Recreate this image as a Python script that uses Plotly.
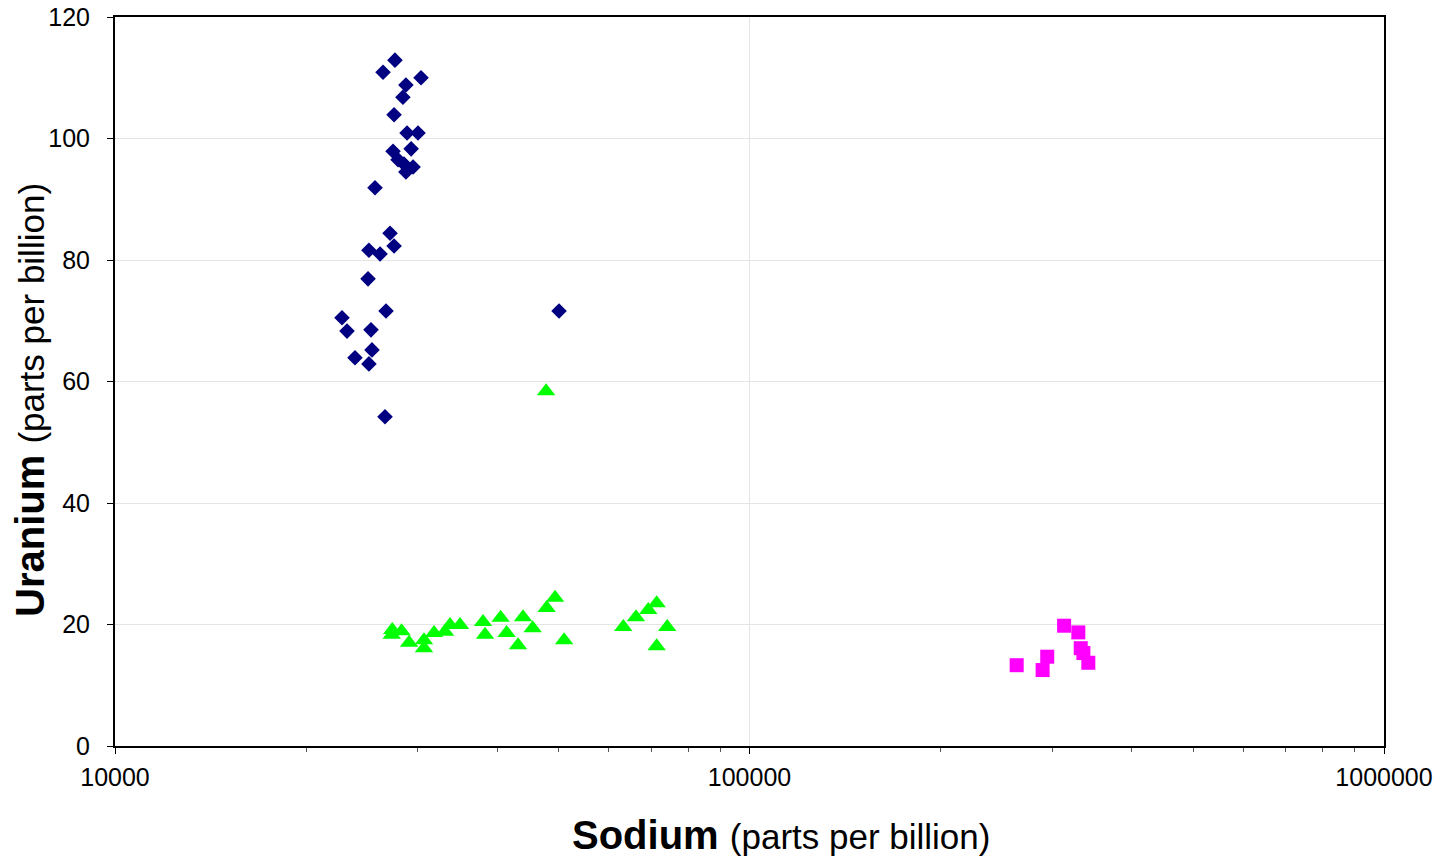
import plotly.graph_objects as go

# Navy diamonds
na_x = [27620, 26450, 30360, 28740, 28430, 27530, 28860, 30030, 27430, 29290,
        27930, 28540, 29500, 28740, 25690, 27130, 25130, 27530, 26170, 25050,
        26740, 22790, 23210, 25320, 23890, 25410, 25130, 26640, 50100]
na_y = [112.9, 110.9, 110.0, 108.8, 106.8, 103.9, 100.9, 100.9, 97.9, 98.3,
        96.5, 95.8, 95.3, 94.5, 91.9, 84.4, 81.6, 82.3, 81.0, 76.9,
        71.6, 70.5, 68.3, 68.5, 63.9, 65.2, 62.9, 54.2, 71.6]

# Green triangles
gr_x = [27350, 27300, 28290, 29070, 30690, 30690, 31830, 33120, 33730, 34980,
        38020, 38300, 40530, 41420, 43170, 43960, 45530, 47900, 49380, 51030,
        63250, 66240, 69250, 71400, 74190, 71400, 47800]
gr_y = [19.1, 18.3, 18.9, 17.0, 17.4, 16.1, 18.6, 18.8, 19.9, 19.9,
        20.4, 18.3, 21.1, 18.6, 16.6, 21.2, 19.4, 22.7, 24.4, 17.4,
        19.6, 21.2, 22.4, 23.5, 19.6, 16.4, 58.4]

# Magenta squares
mg_x = [313200, 329800, 263700, 294600, 289700, 332700, 335900, 341970]
mg_y = [19.8, 18.7, 13.3, 14.7, 12.5, 16.1, 15.3, 13.7]

x_tickvals = [10000, 100000, 1000000]
x_ticktext = ["10000", "100000", "1000000"]
y_tickvals = [0, 20, 40, 60, 80, 100, 120]

fig = go.Figure()
fig.add_trace(go.Scatter(x=na_x, y=na_y, mode="markers",
                         marker=dict(symbol="diamond", size=12, color="#000080"),
                         showlegend=False))
fig.add_trace(go.Scatter(x=gr_x, y=gr_y, mode="markers",
                         marker=dict(symbol="triangle-up", size=16, color="#00ff00"),
                         showlegend=False))
fig.add_trace(go.Scatter(x=mg_x, y=mg_y, mode="markers",
                         marker=dict(symbol="square", size=14, color="#ff00ff"),
                         showlegend=False))

font_family = "Liberation Sans, Arial, sans-serif"

fig.update_layout(
    width=1450, height=857,
    margin=dict(l=115, r=66, t=17, b=111),
    paper_bgcolor="white", plot_bgcolor="white",
    font=dict(family=font_family, color="black", size=25),
    xaxis=dict(
        type="log", range=[4, 6], automargin=False,
        tickvals=x_tickvals, ticktext=x_ticktext,
        showline=True, linecolor="black", linewidth=2, mirror=True,
        ticks="outside", ticklen=6, tickcolor="black", tickwidth=1,
        ticklabelstandoff=2,
        showgrid=True, gridcolor="#e4e4e4", gridwidth=1,
        zeroline=False,
        minor=dict(ticks="outside", ticklen=4, tickcolor="#555555",
                   dtick="D1", showgrid=False),
        tickfont=dict(size=25),
    ),
    yaxis=dict(
        range=[0, 120], tickvals=y_tickvals, automargin=False,
        showline=True, linecolor="black", linewidth=2, mirror=True,
        ticks="outside", ticklen=6, tickcolor="black", tickwidth=1,
        ticklabelstandoff=12,
        showgrid=True, gridcolor="#e4e4e4", gridwidth=1,
        zeroline=False,
        tickfont=dict(size=25),
    ),
    annotations=[
        dict(text="<b>Sodium</b> <span style='font-size:35px'>(parts per billion)</span>",
             xref="paper", yref="paper", x=0.5248, y=-0.122,
             xanchor="center", yanchor="middle", showarrow=False,
             font=dict(size=40, family=font_family, color="black")),
        dict(text="<b>Uranium</b> <span style='font-size:35px'>(parts per billion)</span>",
             xref="paper", yref="paper", x=-0.067, y=0.4746, textangle=-90,
             xanchor="center", yanchor="middle", showarrow=False,
             font=dict(size=40, family=font_family, color="black")),
    ],
)

fig.write_html("out.html")
